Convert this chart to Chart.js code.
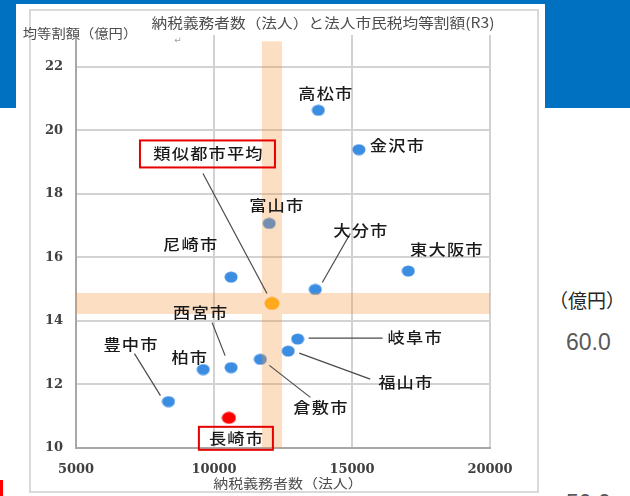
<!DOCTYPE html>
<html lang="ja">
<head>
<meta charset="utf-8">
<script src="https://cdn.jsdelivr.net/npm/chart.js@4.4.1/dist/chart.umd.min.js"></script>
<style>
  html, body { margin: 0; padding: 0; background: #ffffff; }
  body { position: relative; width: 630px; height: 496px; overflow: hidden; font-family: "Noto Sans CJK JP", sans-serif; }
  .blk { position: absolute; }
  #bandTop { left: 0; top: 0; width: 630px; height: 4px; background: #0070c0; }
  #bandL { left: 0; top: 0; width: 16px; height: 108px; background: #0070c0; }
  #bandR { left: 545px; top: 0; width: 85px; height: 108px; background: #0070c0; }
  #sheet { left: 16px; top: 4px; width: 529px; height: 492px; background: #ffffff; }
  #frame { left: 29px; top: 9px; width: 510px; height: 484px; border: 2px solid #d9d9d9; box-sizing: border-box; }
  #unit { left: 549px; top: 286px; font-size: 19px; color: #262626; white-space: nowrap; }
  #v60 { left: 566px; top: 329px; font-family: "Liberation Sans", sans-serif; font-size: 23px; color: #595959; }
  #v50 { left: 566px; top: 490px; font-family: "Liberation Sans", sans-serif; font-size: 23px; color: #595959; }
  #mark { left: 0; top: 480px; width: 3px; height: 16px; background: #ff0000; }
  #chart { position: absolute; left: 0; top: 0; }
</style>
</head>
<body>
<div class="blk" id="bandTop"></div>
<div class="blk" id="bandL"></div>
<div class="blk" id="bandR"></div>
<div class="blk" id="sheet"></div>
<div class="blk" id="frame"></div>
<div class="blk" id="unit">（億円）</div>
<div class="blk" id="v60">60.0</div>
<div class="blk" id="v50">50.0</div>
<div class="blk" id="mark"></div>
<canvas id="chart" width="630" height="496"></canvas>
<script>
// 納税義務者数（法人）と法人市民税均等割額（R3）
const cities     = ['高松市', '金沢市', '富山市', '大分市', '東大阪市', '尼崎市', '西宮市', '柏市', '豊中市', '倉敷市', '岐阜市', '福山市'];
const taxpayers  = [13780, 15250, 12000, 13670, 17040, 10620, 10620, 9610, 8350, 11680, 13030, 12690];
const kintowari  = [20.63, 19.39, 17.07, 14.99, 15.57, 15.38, 12.53, 12.47, 11.46, 12.79, 13.43, 13.05];

const avgName = '類似都市平均';
const avgTaxpayers = [12100];
const avgKintowari = [14.55];

const homeName = '長崎市';
const homeTaxpayers = [10540];
const homeKintowari = [10.95];

const xTickValues = [5000, 10000, 15000, 20000];
const yTickValues = [10, 12, 14, 16, 18, 20, 22];

const chartTitle = '納税義務者数（法人）と法人市民税均等割額(R3)';
const xTitle = '納税義務者数（法人）';
const yTitle = '均等割額（億円）';

// label placement (pixel offsets from each marker) and leader lines
const labelLayout = {
  '高松市':   { dx: 7,   dy: -17 },
  '金沢市':   { dx: 38,  dy: -4 },
  '富山市':   { dx: 7,   dy: -18 },
  '大分市':   { dx: 45,  dy: -59, line: [35, -56, 7, -7] },
  '東大阪市': { dx: 38,  dy: -22 },
  '尼崎市':   { dx: -41, dy: -33 },
  '西宮市':   { dx: -31, dy: -55, line: [-19, -45, -6, -12] },
  '柏市':     { dx: -14, dy: -12 },
  '豊中市':   { dx: -38, dy: -57, line: [-34, -48, -8, -6] },
  '倉敷市':   { dx: 60,  dy: 48,  line: [9, 6, 50, 38] },
  '岐阜市':   { dx: 117, dy: -2,  line: [11, -1, 85, -1] },
  '福山市':   { dx: 117, dy: 31,  line: [11, 2, 82, 28] },
  '類似都市平均': { dx: -64, dy: -150, line: [-69, -130, -5, -10], box: [-132, -163, 3, -136] },
  '長崎市':   { dx: 7,   dy: 20,  box: [-30, 9, 44, 32] }
};

function ellipseMarker(color, w, h) {
  const c = document.createElement('canvas');
  c.width = w; c.height = h;
  const g = c.getContext('2d');
  g.fillStyle = color;
  g.beginPath();
  g.ellipse(w / 2, h / 2, w / 2 - 0.5, h / 2 - 0.5, 0, 0, Math.PI * 2);
  g.fill();
  return c;
}
const blueDot = ellipseMarker('#3b8de2', 14, 12);
const orangeDot = ellipseMarker('#ffa91c', 16, 14);
const redDot = ellipseMarker('#ff0000', 15, 13);

function toPoints(xs, ys) { return xs.map((x, i) => ({ x: x, y: ys[i] })); }

// wide, slightly stretched text in the style of the printed chart
function stretchedText(ctx, text, cx, cy, font, color, sx, spacing) {
  ctx.save();
  ctx.translate(cx, cy);
  ctx.scale(sx, 1);
  ctx.font = font;
  ctx.fillStyle = color;
  ctx.textAlign = 'center';
  ctx.textBaseline = 'middle';
  if ('letterSpacing' in ctx) ctx.letterSpacing = spacing + 'px';
  const w = ctx.measureText(text).width;
  ctx.textAlign = 'left';
  ctx.fillText(text, -w / 2 + spacing / 2, 0);
  ctx.restore();
}

// shaded average bands: drawn over the city markers, under the highlighted ones
const avgBands = {
  id: 'avgBands',
  afterDatasetDraw(chart, args) {
    if (args.meta.label !== 'cities') return;
    const { ctx, chartArea: a, scales: { x, y } } = chart;
    const cx = x.getPixelForValue(avgTaxpayers[0]);
    const cy = y.getPixelForValue(avgKintowari[0]);
    const halfW = 10, halfH = 10.5;
    const topY = y.getPixelForValue(22.8);
    ctx.save();
    ctx.beginPath();
    ctx.rect(a.left, a.top, a.right - a.left, a.bottom - a.top);
    ctx.clip();
    ctx.fillStyle = 'rgba(245,145,52,0.3)';
    ctx.fillRect(a.left, cy - halfH, a.right - a.left, halfH * 2);
    ctx.fillRect(cx - halfW, topY, halfW * 2, (cy - halfH) - topY);
    ctx.fillRect(cx - halfW, cy + halfH, halfW * 2, a.bottom - (cy + halfH));
    ctx.restore();
  }
};

// titles, city names, leader lines and highlight boxes
const annotations = {
  id: 'annotations',
  afterDraw(chart) {
    const { ctx, scales: { x, y } } = chart;
    stretchedText(ctx, chartTitle, 323, 23, '400 14px "Noto Sans CJK JP"', '#4d4d4d', 1.12, 0);
    stretchedText(ctx, yTitle, 80, 33, '400 13px "Noto Sans CJK JP"', '#4d4d4d', 1.1, 0);
    stretchedText(ctx, xTitle, 288, 483, '400 13px "Noto Sans CJK JP"', '#4d4d4d', 1.15, 0);
    ctx.save();
    ctx.font = '9px "DejaVu Sans"';
    ctx.fillStyle = '#a0a0a0';
    ctx.textAlign = 'center';
    ctx.textBaseline = 'middle';
    ctx.fillText('↵', 178, 41);
    ctx.restore();

    const items = cities.map((n, i) => ({ name: n, x: taxpayers[i], y: kintowari[i] }));
    items.push({ name: avgName, x: avgTaxpayers[0], y: avgKintowari[0] });
    items.push({ name: homeName, x: homeTaxpayers[0], y: homeKintowari[0] });

    items.forEach(it => {
      const L = labelLayout[it.name];
      if (!L) return;
      const px = x.getPixelForValue(it.x);
      const py = y.getPixelForValue(it.y);
      if (L.line) {
        ctx.save();
        ctx.strokeStyle = '#4a4a4a';
        ctx.lineWidth = 1.2;
        ctx.beginPath();
        ctx.moveTo(px + L.line[0], py + L.line[1]);
        ctx.lineTo(px + L.line[2], py + L.line[3]);
        ctx.stroke();
        ctx.restore();
      }
      if (L.box) {
        ctx.save();
        ctx.strokeStyle = '#e60000';
        ctx.lineWidth = 2;
        ctx.strokeRect(px + L.box[0], py + L.box[1], L.box[2] - L.box[0], L.box[3] - L.box[1]);
        ctx.restore();
      }
      stretchedText(ctx, it.name, px + L.dx, py + L.dy, '500 15px "Noto Sans CJK JP"', '#1a1a1a', 1.15, 1);
    });
  }
};

const tickFont = { family: '"DejaVu Serif"', size: 13, weight: 'bold' };

new Chart(document.getElementById('chart'), {
  type: 'scatter',
  data: {
    datasets: [
      { label: 'average', data: toPoints(avgTaxpayers, avgKintowari), order: 0, pointStyle: orangeDot },
      { label: 'home', data: toPoints(homeTaxpayers, homeKintowari), order: 1, pointStyle: redDot },
      { label: 'cities', data: toPoints(taxpayers, kintowari), order: 2, pointStyle: blueDot }
    ]
  },
  options: {
    responsive: false,
    animation: false,
    events: [],
    layout: { padding: { left: 0, top: 35, right: 140, bottom: 0 } },
    plugins: { legend: { display: false }, tooltip: { enabled: false }, title: { display: false } },
    scales: {
      x: {
        type: 'linear',
        min: 5000, max: 20000,
        afterBuildTicks: s => { s.ticks = xTickValues.map(v => ({ value: v })); },
        afterFit: s => { s.height = 48; },
        ticks: { font: tickFont, color: '#404040', padding: 14, maxRotation: 0, callback: v => String(v) },
        grid: { color: '#d2d2d2', lineWidth: 2, drawTicks: false },
        border: { color: '#a8a8a8', width: 2 }
      },
      y: {
        type: 'linear',
        min: 10, max: 23,
        afterBuildTicks: s => { s.ticks = yTickValues.map(v => ({ value: v })); },
        afterFit: s => { s.width = 76; },
        ticks: { font: tickFont, color: '#404040', padding: 13, callback: v => String(v) },
        grid: { color: '#d2d2d2', lineWidth: 2, drawTicks: false },
        border: { color: '#a8a8a8', width: 2 }
      }
    }
  },
  plugins: [avgBands, annotations]
});
</script>
</body>
</html>
